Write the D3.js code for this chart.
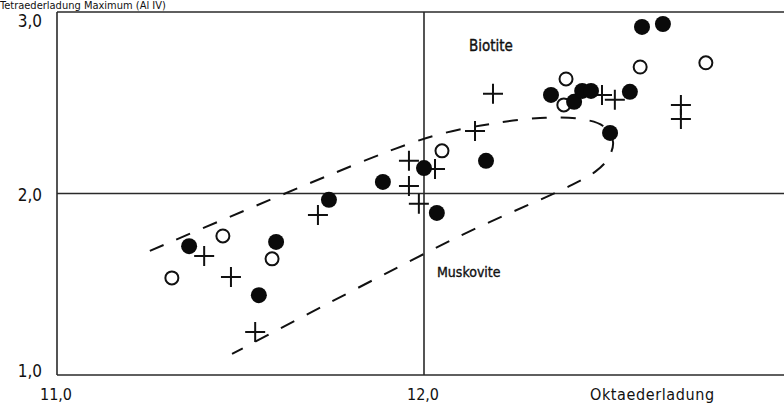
<!DOCTYPE html>
<html>
<head>
<meta charset="utf-8">
<script src="https://cdn.jsdelivr.net/npm/d3@7"></script>
<style>
  body { margin: 0; background: #fff; }
  svg { display: block; }
  text { font-family: "DejaVu Sans Condensed", "DejaVu Sans", sans-serif; fill: #111; }
</style>
</head>
<body>
<div id="chart"></div>
<script>
// values (Oktaederladung vs Tetraederladung)
var solidX = [11.36, 11.597, 11.55, 11.741, 11.888, 12.0, 12.035, 12.169, 12.346, 12.409, 12.431, 12.455, 12.561, 12.507, 12.594, 12.651];
var solidY = [1.71, 1.733, 1.44, 1.965, 2.064, 2.14, 1.893, 2.18, 2.543, 2.505, 2.565, 2.565, 2.56, 2.334, 2.918, 2.934];

var openX = [11.313, 11.452, 11.586, 12.049, 12.387, 12.381, 12.589, 12.768];
var openY = [1.535, 1.766, 1.64, 2.235, 2.631, 2.488, 2.697, 2.72];

var crossX = [11.401, 11.474, 11.54, 11.711, 11.959, 11.959, 11.986, 12.03, 12.139, 12.188, 12.485, 12.52, 12.7, 12.7];
var crossY = [1.656, 1.54, 1.237, 1.882, 2.18, 2.042, 1.943, 2.135, 2.345, 2.549, 2.543, 2.516, 2.488, 2.411];

// dashed field boundary
var envX = [11.253, 11.921, 12.057, 12.18, 12.316, 12.425, 12.488, 12.515, 12.501, 12.466, 12.403, 12.093, 11.477];
var envY = [1.684, 2.246, 2.334, 2.383, 2.416, 2.411, 2.372, 2.284, 2.191, 2.119, 2.047, 1.761, 1.116];

var xTicks = [11, 12];
var yTicks = [1, 2, 3];
var xTickText = ["11,0", "12,0"];
var yTickText = ["1,0", "2,0", "3,0"];

var svgWidth = 784, svgHeight = 408;
var margin = { top: 12, left: 57, bottom: 33 };

var svg = d3.select("#chart").append("svg")
  .attr("width", svgWidth)
  .attr("height", svgHeight);

var xScale = d3.scaleLinear().domain([11, 13]).range([margin.left, margin.left + 734]);
var yScale = d3.scaleLinear().domain([1, 3]).range([svgHeight - margin.bottom, margin.top]);

// frame and reference lines
var lineColor = "#2a2a2a";
svg.append("line")
  .attr("x1", xScale(11)).attr("x2", xScale(11))
  .attr("y1", yScale(3)).attr("y2", yScale(1))
  .attr("stroke", lineColor).attr("stroke-width", 1.6);
svg.append("line")
  .attr("x1", xScale(12)).attr("x2", xScale(12))
  .attr("y1", yScale(3)).attr("y2", yScale(1))
  .attr("stroke", lineColor).attr("stroke-width", 1.6);
yTicks.forEach(function (v) {
  svg.append("line")
    .attr("x1", xScale(11)).attr("x2", xScale(13))
    .attr("y1", yScale(v)).attr("y2", yScale(v))
    .attr("stroke", lineColor).attr("stroke-width", v == 2 ? 1.4 : 1.6);
});

// tick labels
svg.selectAll(".ylab").data(yTicks).enter().append("text")
  .attr("class", "ylab")
  .attr("x", 42)
  .attr("y", (d, i) => yScale(d) + (d == 3 ? 15 : (d == 1 ? 2 : 7)))
  .attr("text-anchor", "end")
  .attr("font-size", "17px")
  .text((d, i) => yTickText[i]);

svg.selectAll(".xlab").data(xTicks).enter().append("text")
  .attr("class", "xlab")
  .attr("x", d => xScale(d) - 1)
  .attr("y", 400)
  .attr("text-anchor", "middle")
  .attr("font-size", "16px")
  .text((d, i) => xTickText[i]);

svg.append("text")
  .attr("x", 590).attr("y", 400)
  .attr("font-size", "16px")
  .attr("font-family", "DejaVu Sans, sans-serif")
  .attr("letter-spacing", "0.6px")
  .text("Oktaederladung");

// y axis title, sitting right at the top edge as in the scan
svg.append("text")
  .attr("x", 0).attr("y", 9)
  .attr("font-size", "11px")
  .text("Tetraederladung  Maximum (Al IV)");

svg.append("text")
  .attr("x", 469).attr("y", 51)
  .attr("font-size", "15px")
  .attr("stroke", "#111")
  .attr("stroke-width", 0.35)
  .text("Biotite");

svg.append("text")
  .attr("x", 437).attr("y", 277)
  .attr("font-size", "14px")
  .attr("stroke", "#111")
  .attr("stroke-width", 0.35)
  .text("Muskovite");

// dashed envelope
var env = envX.map((x, i) => [x, envY[i]]);
svg.append("path")
  .attr("d", d3.line()
    .x(d => xScale(d[0]))
    .y(d => yScale(d[1]))
    .curve(d3.curveCatmullRom)(env))
  .attr("fill", "none")
  .attr("stroke", "#111")
  .attr("stroke-width", 2)
  .attr("stroke-dasharray", "15,14");

// crosses
svg.selectAll(".cross").data(crossX).enter().append("path")
  .attr("class", "cross")
  .attr("d", (d, i) => {
    var cx = xScale(d), cy = yScale(crossY[i]);
    return "M" + (cx - 10) + "," + cy + "H" + (cx + 10) + "M" + cx + "," + (cy - 10) + "V" + (cy + 10);
  })
  .attr("stroke", "#111")
  .attr("stroke-width", 2)
  .attr("fill", "none");

// open circles
svg.selectAll(".open").data(openX).enter().append("circle")
  .attr("class", "open")
  .attr("cx", d => xScale(d))
  .attr("cy", (d, i) => yScale(openY[i]))
  .attr("r", 6.5)
  .attr("fill", "#fff")
  .attr("stroke", "#111")
  .attr("stroke-width", 2);

// solid circles
svg.selectAll(".solid").data(solidX).enter().append("circle")
  .attr("class", "solid")
  .attr("cx", d => xScale(d))
  .attr("cy", (d, i) => yScale(solidY[i]))
  .attr("r", 8)
  .attr("fill", "#0a0a0a");
</script>
</body>
</html>
